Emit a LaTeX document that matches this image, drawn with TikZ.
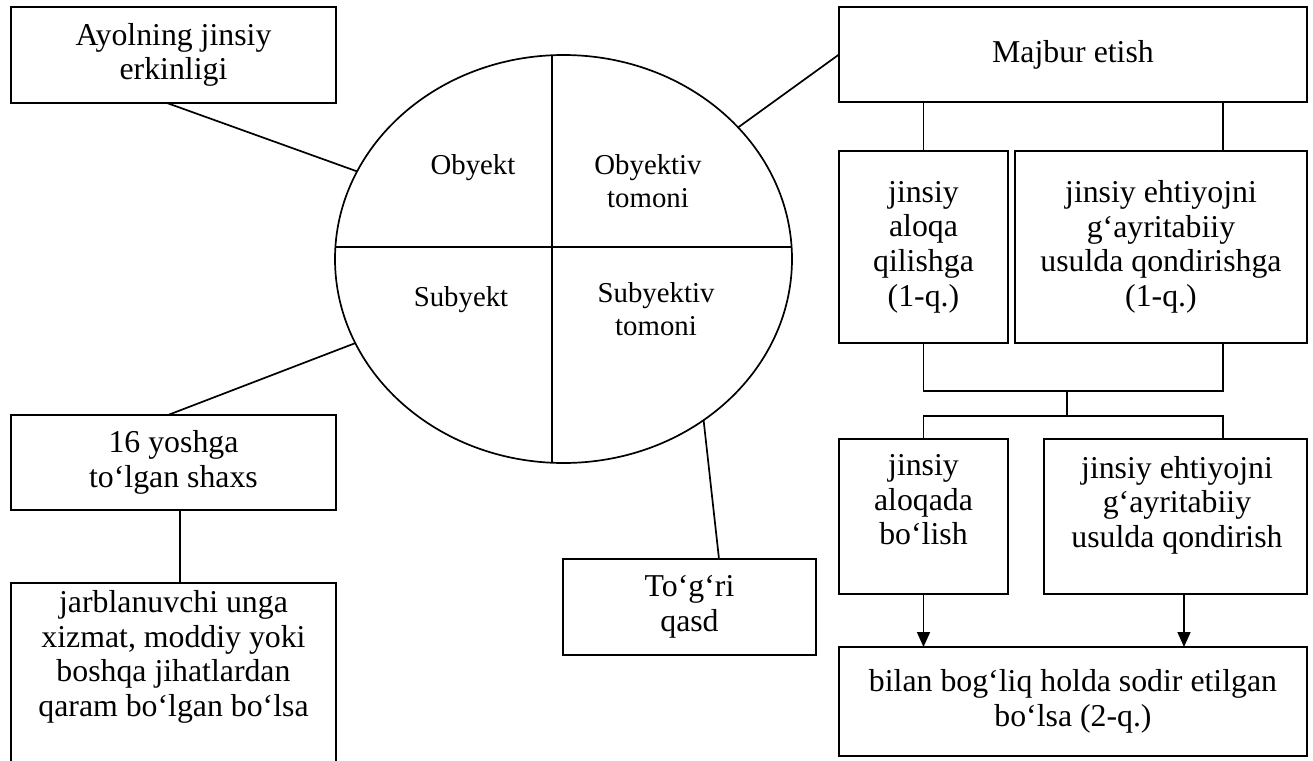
\documentclass[tikz,border=0pt]{standalone}
\usepackage{fontspec}
\setmainfont{Liberation Serif}
\usetikzlibrary{shapes.geometric,arrows.meta,calc}
\newcommand{\mainfs}{\fontsize{15.9pt}{17.3pt}\selectfont}
\newcommand{\circfs}{\fontsize{14.4pt}{16.5pt}\selectfont}
\begin{document}
\begin{tikzpicture}[x=0.5pt,y=-0.5pt,
  line width=0.85pt,
  box/.style={draw, rectangle, inner sep=0pt, outer sep=0pt, align=center, font=\mainfs},
  txt/.style={inner sep=0pt, align=center, font=\mainfs},
  ctxt/.style={inner sep=0pt, align=center, font=\circfs},
  arr/.style={-{Triangle[width=6.5pt,length=7.5pt]}}
]
\useasboundingbox (0,0) rectangle (1313,761);
\clip (0,0) rectangle (1313,761);

% boxes
\node[box, minimum width=162.5pt, minimum height=48pt] (ayol) at (173.5,55) {Ayolning jinsiy\\erkinligi};
\node[box, minimum width=234pt, minimum height=47.5pt] (majbur) at (1073,54.5) {Majbur etish};
\node[box, minimum width=84.5pt, minimum height=96pt] (aloqa1) at (923.5,247) {jinsiy\\aloqa\\qilishga\\(1-q.)};
\node[box, minimum width=146pt, minimum height=96pt] (ehtiyoj1) at (1161,247) {jinsiy ehtiyojni\\g‘ayritabiiy\\usulda qondirishga\\(1-q.)};
\node[box, minimum width=84.5pt, minimum height=77.5pt] (aloqa2) at (923.5,516.5) {};
\node[txt] (aloqa2t) at (923.5,500) {jinsiy\\aloqada\\bo‘lish};
\node[box, minimum width=131.5pt, minimum height=77.5pt] (ehtiyoj2) at (1175.5,516.5) {};
\node[txt] (ehtiyoj2t) at (1177,505) {jinsiy ehtiyojni\\g‘ayritabiiy\\usulda qondirish};
\node[box, minimum width=234pt, minimum height=54.5pt] (bilan) at (1073,701.5) {bilan bog‘liq holda sodir etilgan\\bo‘lsa (2-q.)};
\node[box, minimum width=162.5pt, minimum height=47.5pt] (yosh) at (173.5,462.5) {16 yoshga\\to‘lgan shaxs};
\node[box, minimum width=162.5pt, minimum height=108.5pt] (jarb) at (173.5,691.5) {};
\node[txt] (jarbt) at (173.5,657) {jarblanuvchi unga\\xizmat, moddiy yoki\\boshqa jihatlardan\\qaram bo‘lgan bo‘lsa};
\node[box, minimum width=126.5pt, minimum height=48pt] (togri) at (689.5,607) {To‘g‘ri\\qasd};

% circle
\node[draw, ellipse, minimum width=228.5pt, minimum height=204pt, inner sep=0pt, outer sep=0pt] (circ) at (563.5,259) {};
\draw (552,55.3) -- (552,462.7);
\draw (335.4,247) -- (791.6,247);
\node[ctxt] (obj) at (473,168) {Obyekt};
\node[ctxt] (objt) at (648,181) {Obyektiv\\tomoni};
\node[ctxt] (sub) at (461,300) {Subyekt};
\node[ctxt] (subt) at (656,309) {Subyektiv\\tomoni};

% connectors from circle
\draw ($(ayol.south)+(-6.5,0)$) -- (circ.157.5);
\draw (circ.37.2) -- (majbur.west);
\draw (circ.202.3) -- ($(yosh.north)+(-5.5,0)$);
\draw (circ.-49.3) -- ($(togri.north)+(29.5,0)$);

% right tree
\draw (aloqa1.north) -- (aloqa1.north |- majbur.south);
\coordinate (e1n) at ($(ehtiyoj1.north)+(62,0)$);
\draw (e1n) -- (e1n |- majbur.south);
\coordinate (e1s) at ($(ehtiyoj1.south)+(62,0)$);
\coordinate (j1) at (1067,391);
\coordinate (j2) at (1067,416);
\draw (aloqa1.south) -- (aloqa1.south |- j1) -- (e1s |- j1) -- (e1s);
\draw (j1) -- (j2);
\coordinate (e2n) at ($(ehtiyoj2.north)+(47.5,0)$);
\draw (aloqa2.north) -- (aloqa2.north |- j2) -- (e2n |- j2) -- (e2n);
\draw[arr] (aloqa2.south) -- (aloqa2.south |- bilan.north);
\coordinate (e2s) at ($(ehtiyoj2.south)+(8.5,0)$);
\draw[arr] (e2s) -- (e2s |- bilan.north);

% left
\coordinate (ys) at ($(yosh.south)+(6.5,0)$);
\draw (ys) -- (ys |- jarb.north);
\end{tikzpicture}
\end{document}
